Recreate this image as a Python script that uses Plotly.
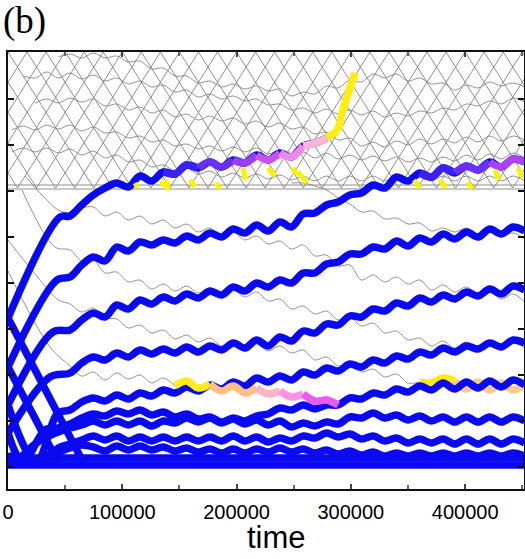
import plotly.graph_objects as go

# ---------------- data (time units; level height units) ----------------
GRID_T = [3300, 13500, 23700, 33900, 44100, 54300, 64500, 74700, 84900, 95100,
          105300, 115500, 125700, 135900, 146100, 156300, 166500, 176700, 186900, 197100,
          207300, 217500, 227700, 237900, 248100, 258300, 268500, 278700, 288900, 299100,
          309300, 319500, 329700, 339900, 350100, 360300, 370500, 380700, 390900, 401100,
          411300, 421500, 431700, 441900, 452100]

X_TICKS = [0, 100000, 200000, 300000, 400000]
X_LABELS = ["0", "100000", "200000", "300000", "400000"]
Y_TICKS = [22, 68, 114, 160, 206, 252, 298, 344, 390]

# occupied levels (blue)
level1_start_t = [0, 45500]
level1_start_y = [171, 272]
level1_from = 5
level1_y = [273, 284, 294, 301, 306, 302, 313, 308, 317, 315, 324, 321, 327, 322, 329, 326,
            334, 329, 336, 332, 343, 346, 351]
level1_end_t = [287875, 292250, 296625, 303625]
level1_end_y = [359, 376, 392, 416]

level2_start_t = [0, 42875]
level2_start_y = [122, 209]
level2_from = 5
level2_y = [212, 224, 232, 228, 242, 238, 247, 244, 249, 246, 253, 249, 256, 252, 260, 256,
            264, 258, 267, 262, 275, 276, 284, 287, 294, 296, 304, 301, 312, 308, 316, 312,
            321, 316, 323, 319, 327, 322, 330, 327]

level3_start_t = [0, 39375]
level3_start_y = [84, 157]
level3_from = 5
level3_y = [159, 169, 176, 172, 184, 180, 189, 185, 192, 188, 195, 191, 198, 194, 202, 198,
            206, 202, 209, 206, 216, 216, 225, 227, 235, 235, 242, 240, 248, 243, 251, 247,
            255, 250, 257, 252, 260, 255, 262, 258]

level4_start_t = [0, 36750]
level4_start_y = [56, 112]
level4_from = 5
level4_y = [116, 126, 132, 129, 136, 132, 139, 135, 140, 136, 142, 137, 143, 139, 146, 141,
            149, 143, 152, 148, 158, 156, 165, 164, 173, 172, 180, 178, 186, 183, 191, 187,
            194, 190, 197, 193, 200, 195, 203, 199]

level5_start_t = [0, 24500, 43750]
level5_start_y = [84, 27, 76]
level5_from = 5
level5_y = [79, 87, 91, 88, 94, 90, 96, 93, 99, 96, 102, 98, 104, 100, 107, 103, 111, 107,
            113, 109, 117, 114, 121, 118, 125, 122, 129, 126, 133, 130, 137, 134, 141, 137,
            143, 140, 146, 142, 149, 146]

level6_start_t = [0, 13125, 32375]
level6_start_y = [56, 27, 59]
level6_from = 4
level6_y = [61, 65, 71, 75, 73, 78, 75, 79, 74, 77, 72, 75, 70, 72, 67, 71, 68, 73, 75, 81,
            79, 84, 80, 84, 84, 91, 90, 96, 94, 100, 97, 103, 99, 106, 100, 107, 101, 108,
            102, 109, 104]

level7_start_t = [0, 4375, 23625]
level7_start_y = [36, 27, 45]
level7_from = 3
level7_y = [52, 57, 61, 64, 68, 64, 68, 64, 68, 63, 68, 66, 71, 67, 71, 66, 70, 65, 69, 64,
            68, 62, 66, 63, 67, 65, 72, 71, 76, 71, 74, 69, 73, 68, 72, 67, 72, 67, 72, 67,
            72, 68]

level8_start_t = [32375]
level8_start_y = [27]
level8_from = 4
level8_y = [41, 45, 49, 53, 49, 53, 48, 52, 48, 52, 48, 52, 48, 52, 48, 53, 48, 52, 47, 51,
            48, 53, 51, 56, 52, 55, 50, 53, 48, 51, 46, 50, 46, 50, 45, 50, 45, 50, 45, 50, 46]

level9_start_t = [19250]
level9_start_y = [27]
level9_from = 3
level9_y = [34, 37, 41, 44, 42, 38, 43, 39, 43, 39, 42, 38, 41, 37, 40, 36, 40, 36, 40, 37,
            41, 37, 40, 36, 39, 35, 38, 34, 37, 33, 36, 33, 36, 33, 36, 33, 36, 33, 36, 33,
            36, 33]

band_t = [0, 452100]
band_upper_y = [31, 31]
band_lower_y = [24, 24]

drop1_t = [0, 65625]
drop1_y = [171, 27]
drop2_t = [0, 43750]
drop2_y = [122, 27]

# empty levels (grey)
empty1_start_t = []
empty1_start_y = []
empty1_from = 24
empty1_y = [306, 306, 303, 299, 291, 285, 277, 278, 270, 271, 265, 266, 258, 261, 257, 261,
            255, 259, 253, 256, 250]

empty2_start_t = [14875]
empty2_start_y = [313]
empty2_from = 3
empty2_y = [289, 279, 276, 281, 282, 273, 277, 269, 273, 265, 269, 261, 265, 257, 261, 253,
            257, 249, 253, 245, 248, 240, 244, 233, 234, 223, 224, 209, 214, 207, 212, 205,
            209, 199, 204, 197, 202, 194, 198, 190, 195, 187]

empty3_start_t = [12250, 41125]
empty3_start_y = [299, 242]
empty3_from = 5
empty3_y = [239, 228, 229, 216, 217, 207, 209, 200, 205, 198, 203, 196, 201, 194, 199, 192,
            197, 188, 190, 180, 183, 175, 178, 169, 172, 163, 166, 156, 158, 149, 151, 143,
            148, 141, 147, 140, 146, 139, 146, 141]

empty4_start_t = [0, 28000]
empty4_start_y = [249, 209]
empty4_from = 4
empty4_y = [189, 185, 177, 181, 171, 170, 161, 164, 156, 159, 150, 154, 147, 151, 143, 147,
            140, 145, 138, 143, 136, 139, 129, 132, 123, 126, 117, 120, 112, 115, 106,
            107, 106, 111, 108, 100, 107, 99, 106, 99, 105]

empty5_start_t = [0, 36750]
empty5_start_y = [218, 142]
empty5_from = 5
empty5_y = [123, 113, 117, 109, 116, 110, 114, 106, 111, 103, 108, 101, 105, 98, 103, 96,
            101, 95, 98, 92, 95, 88, 89, 84]

# upper continuum levels (grey)
upper1_from = 4
upper1_y = [432, 435, 431, 436, 431, 433, 427, 428, 420, 421, 413, 413, 406, 408, 402, 405,
            400, 403, 398, 400, 393, 397, 395, 403, 401, 409, 407, 415, 411, 415, 408, 411,
            405, 406, 399, 404, 401, 407, 403, 406, 402]
upper2_from = 1
upper2_y = [413, 411, 417, 411, 416, 410, 414, 408, 411, 405, 408, 402, 404, 397, 399, 392,
            395, 390, 393, 388, 390, 384, 385, 379, 381, 376, 380, 375, 379, 374, 378, 372,
            376, 373, 378, 376, 381, 379, 385, 383, 388, 385, 391, 387]
upper3_from = 2
upper3_y = [386, 390, 386, 391, 387, 390, 383, 385, 379, 382, 376, 379, 372, 375, 369, 373,
            368, 371, 365, 368, 362, 366, 360, 362, 355, 357, 349, 351, 343, 347, 342, 348,
            344, 350, 345, 350, 346, 352, 347, 353, 348, 353, 349]
upper4_from = 0
upper4_y = [359, 363, 359, 364, 360, 364, 358, 362, 356, 357, 351, 353, 347, 349, 343, 345,
            340, 343, 338, 342, 337, 341, 335, 339, 333, 337, 331, 336, 330, 334, 329, 333,
            328, 332, 327, 331, 327, 332, 328, 334, 329, 335, 330, 336, 331]
upper5_from = 0
upper5_y = [337, 341, 337, 341, 336, 340, 334, 338, 331, 334, 327, 329, 322, 324, 318, 321,
            315, 318, 312, 316, 311, 315, 310, 314, 309, 313, 308, 313, 308, 313, 308, 313,
            308, 313, 308, 313, 308, 313, 308, 313, 308, 313, 308, 313, 308]

# bouncing continuum (zig-zag lattice)
lattice_top = 437
lattice_bottom = 301
lattice_cross_t = 75000
lattice_phases = [0, 16667, 33333, 50000, 66667, 83333, 100000, 116667, 133333]
boundary_y = [300, 304]

# yellow fragments near the continuum edge
yellow_t = [[111125, 113750], [133000, 141750], [137375, 140000], [159250, 163625],
            [182000, 185500], [205625, 208250], [227500, 233625], [249375, 252875],
            [253750, 261625], [355250, 360500], [378000, 383250], [402500, 406000],
            [426125, 429625], [446250, 450625]]
yellow_y = [[306, 301], [305, 305], [309, 299], [309, 302], [306, 300], [321, 309],
            [321, 313], [321, 315], [317, 306], [309, 301], [309, 301], [307, 300],
            [319, 309], [321, 311]]

# ---------------- styles ----------------
BLUE = "#0a0af0"
GREY = "#858585"
W_THICK = 7.5
W_THIN = 0.9

fig = go.Figure()


def add(t, y, color, width, shape="spline"):
    fig.add_trace(go.Scatter(x=t, y=y, mode="lines",
                             line=dict(color=color, width=width, shape=shape),
                             hoverinfo="skip", showlegend=False))


def path(start_t, start_y, j0, vals, end_t=(), end_y=()):
    t = list(start_t) + GRID_T[j0:j0 + len(vals)] + list(end_t)
    y = list(start_y) + list(vals) + list(end_y)
    return t, y


def idx(start_t, j0, j):
    return len(start_t) + j - j0


def overlay(t, y, start_t, j0, segs, width):
    for ja, jb, col in segs:
        a = idx(start_t, j0, ja)
        b = len(t) - 1 if jb is None else idx(start_t, j0, jb)
        add(t[a:b + 1], y[a:b + 1], col, width)


# lattice
lt, ly = [], []
for ph in lattice_phases:
    for n in range(-2, 9):
        lt.append(ph + n * lattice_cross_t)
        ly.append(lattice_top if n % 2 == 0 else lattice_bottom)
    lt.append(None)
    ly.append(None)
add(lt, ly, "#828282", 0.9, "linear")
for by in boundary_y:
    add([0, 452100], [by, by], "#828282", 0.9, "linear")

# upper grey levels
for j0, vals in [(upper1_from, upper1_y), (upper2_from, upper2_y), (upper3_from, upper3_y),
                 (upper4_from, upper4_y), (upper5_from, upper5_y)]:
    t, y = path([], [], j0, vals)
    add(t, y, GREY, W_THIN)

# empty grey levels
t, y = path(empty1_start_t, empty1_start_y, empty1_from, empty1_y)
add(t, y, GREY, W_THIN)
t, y = path(empty2_start_t, empty2_start_y, empty2_from, empty2_y)
add(t, y, GREY, W_THIN)
t, y = path(empty3_start_t, empty3_start_y, empty3_from, empty3_y)
add(t, y, GREY, W_THIN)
e4t, e4y = path(empty4_start_t, empty4_start_y, empty4_from, empty4_y)
k = idx(empty4_start_t, empty4_from, 35)
add(e4t[:k + 1], e4y[:k + 1], GREY, W_THIN)
e5t, e5y = path(empty5_start_t, empty5_start_y, empty5_from, empty5_y)
k = idx(empty5_start_t, empty5_from, 14)
add(e5t[:k + 1], e5y[:k + 1], GREY, W_THIN)

# bottom band and drops
add(band_t, band_upper_y, BLUE, W_THICK, "linear")
add(band_t, band_lower_y, BLUE, W_THICK, "linear")
add(drop1_t, drop1_y, BLUE, W_THICK, "linear")
add(drop2_t, drop2_y, BLUE, W_THICK, "linear")

# coloured continuation of empty level 4 (yellow -> orange), drawn below blue
overlay(e4t, e4y, empty4_start_t, empty4_from,
        [(35, 38, "#ffe81a"), (38, 44, "#ffc88c")], W_THICK)

levels = [
    (level9_start_t, level9_start_y, level9_from, level9_y),
    (level8_start_t, level8_start_y, level8_from, level8_y),
    (level7_start_t, level7_start_y, level7_from, level7_y),
    (level6_start_t, level6_start_y, level6_from, level6_y),
    (level5_start_t, level5_start_y, level5_from, level5_y),
    (level4_start_t, level4_start_y, level4_from, level4_y),
    (level3_start_t, level3_start_y, level3_from, level3_y),
]
for st, sy, j0, vals in levels:
    t, y = path(st, sy, j0, vals)
    add(t, y, BLUE, W_THICK)

# empty level 5 turning yellow / orange / pink / magenta
overlay(e5t, e5y, empty5_start_t, empty5_from,
        [(14, 17, "#ffec1a"), (17, 21, "#ffc080"), (21, 23, "#ffb4c4"),
         (23, 25, "#ff92e2"), (25, 28, "#e85af0")], W_THICK)

# level 2 (crosses into continuum)
t2, y2 = path(level2_start_t, level2_start_y, level2_from, level2_y)
add(t2, y2, BLUE, W_THICK)
overlay(t2, y2, level2_start_t, level2_from,
        [(35, 38, "#3a20f2"), (38, 41, "#6a30f7"), (41, 44, "#a844f5")], W_THICK)

# level 1 (crosses into continuum, escapes)
t1, y1 = path(level1_start_t, level1_start_y, level1_from, level1_y, level1_end_t, level1_end_y)
k1 = idx(level1_start_t, level1_from, 27)
add(t1[:k1 + 1], y1[:k1 + 1], BLUE, W_THICK)
overlay(t1, y1, level1_start_t, level1_from,
        [(13, 16, "#3a20f2"), (16, 19, "#6a30f7"), (19, 21, "#9a3ef5"), (21, 23, "#cc50f0"),
         (23, 25, "#f08ae6"), (25, 27, "#ffb4d8"), (27, None, "#ffee10")], W_THICK)

# yellow fragments
yt, yy = [], []
for a, b in zip(yellow_t, yellow_y):
    yt += a + [None]
    yy += b + [None]
add(yt, yy, "#fff200", 5, "linear")

fig.add_annotation(text="time", xref="paper", yref="paper", x=0.521, y=-0.112,
                   xanchor="center", yanchor="middle", showarrow=False,
                   font=dict(family="Liberation Sans", size=31, color="black"))
fig.add_annotation(text="(b)", xref="paper", yref="paper", x=-0.014, y=1.07,
                   xanchor="left", yanchor="middle", showarrow=False,
                   font=dict(family="Liberation Serif", size=37, color="black"))

fig.update_layout(
    width=525, height=559,
    margin=dict(l=8, r=1, t=52, b=70, autoexpand=False),
    paper_bgcolor="white", plot_bgcolor="white",
    showlegend=False,
    xaxis=dict(range=[0, 451500], tickvals=X_TICKS, ticktext=X_LABELS, automargin=False,
               ticks="inside", ticklen=5, tickcolor="#444", tickwidth=1.5,
               minor=dict(dtick=50000, tick0=0, ticks="inside", ticklen=4, tickcolor="#666"),
               showline=True, linecolor="#111", linewidth=2, mirror="ticks",
               showgrid=False, zeroline=False, ticklabelstandoff=4,
               tickfont=dict(family="Liberation Sans", size=20, color="black")),
    yaxis=dict(range=[0, 437], tickvals=Y_TICKS, showticklabels=False, automargin=False,
               ticks="inside", ticklen=6, tickcolor="#111", tickwidth=1.5,
               showline=True, linecolor="#111", linewidth=2, mirror="ticks",
               showgrid=False, zeroline=False),
)

fig.write_html("out.html", config={"displayModeBar": False},
               post_script="document.body.style.margin='0';document.body.style.padding='0';")
